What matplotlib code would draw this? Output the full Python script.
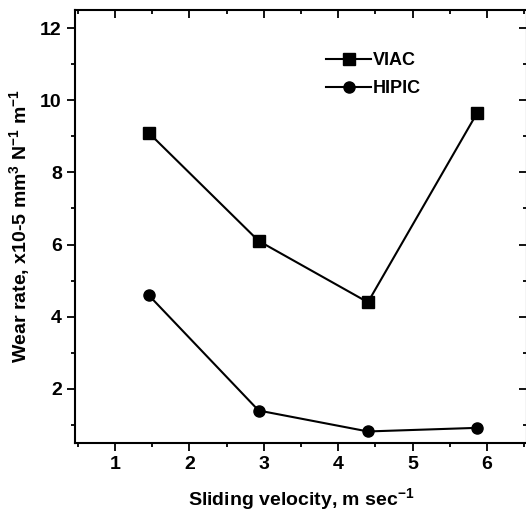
import matplotlib.pyplot as plt
from matplotlib.ticker import MultipleLocator

velocity = [1.45, 2.93, 4.40, 5.87]
viac = [9.1, 6.1, 4.4, 9.65]
hipic = [4.6, 1.4, 0.82, 0.92]

plt.rcParams['font.family'] = ['Liberation Sans', 'DejaVu Sans']
plt.rcParams['font.weight'] = 'bold'
plt.rcParams['axes.labelweight'] = 'bold'
plt.rcParams['mathtext.default'] = 'regular'

fig = plt.figure(figsize=(5.26, 5.15), dpi=100)
ax = fig.add_axes([75/526, 72/515, 452/526, 433/515])

ax.plot(velocity, viac, color='black', lw=1.5, marker='s', ms=8, label='VIAC')
ax.plot(velocity, hipic, color='black', lw=1.5, marker='o', ms=8, label='HIPIC')

ax.set_xlim(0.46, 6.54)
ax.set_ylim(0.5, 12.5)
ax.xaxis.set_major_locator(MultipleLocator(1))
ax.xaxis.set_minor_locator(MultipleLocator(0.5))
ax.yaxis.set_major_locator(MultipleLocator(2))
ax.yaxis.set_minor_locator(MultipleLocator(1))

ax.tick_params(which='both', direction='out', labelsize=14, width=1.3)
ax.tick_params(which='major', length=6)
ax.tick_params(which='minor', length=3)
ax.tick_params(which='both', top=True, right=True)
# top and right ticks point inward in the original
for t in ax.xaxis.get_major_ticks() + ax.xaxis.get_minor_ticks():
    t.tick2line.set_marker(3)
for t in ax.yaxis.get_major_ticks() + ax.yaxis.get_minor_ticks():
    t.tick2line.set_marker(0)
for s in ax.spines.values():
    s.set_linewidth(1.5)

ax.set_xlabel('Sliding velocity, m sec$^{-1}$', fontsize=14, labelpad=9)
ax.set_ylabel('Wear rate, x10-5 mm$^{3}$ N$^{-1}$ m$^{-1}$', fontsize=14, labelpad=6)

ax.legend(loc='upper left', bbox_to_anchor=(0.52, 0.94), frameon=False,
          fontsize=13, handlelength=2.5, handletextpad=0.1, labelspacing=0.6)

fig.savefig('out.png', dpi=100)
